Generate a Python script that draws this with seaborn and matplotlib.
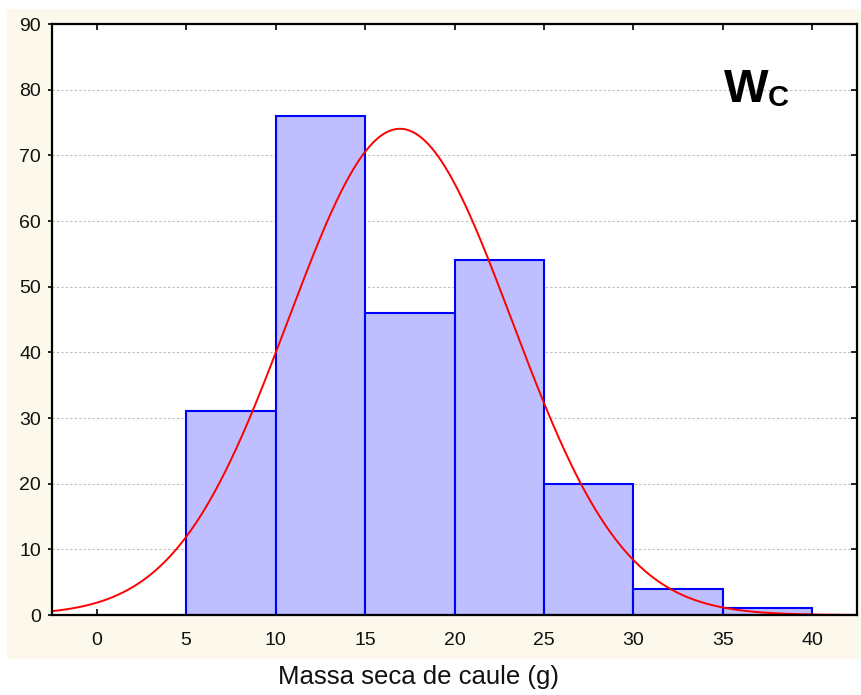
import numpy as np
import pandas as pd
import seaborn as sns
import matplotlib
matplotlib.use("Agg")
import matplotlib.pyplot as plt
from matplotlib.patches import Rectangle
from matplotlib.lines import TICKLEFT

# ---- data ----
bin_edges = [0, 5, 10, 15, 20, 25, 30, 35, 40]
counts = [0, 31, 76, 46, 54, 20, 4, 1]
fit_mean = 16.95
fit_sd = 6.25
x_ticks = [0, 5, 10, 15, 20, 25, 30, 35, 40]
y_ticks = [0, 10, 20, 30, 40, 50, 60, 70, 80, 90]
x_label = "Massa seca de caule (g)"

sns.set_theme(style="white")
plt.rcParams['font.family'] = ['Liberation Sans', 'DejaVu Sans']

W, H = 861, 695
fig = plt.figure(figsize=(W / 100, H / 100), dpi=100, facecolor='white')
# beige panel
fig.patches.append(Rectangle((7 / W, 1 - 659 / H), (861 - 7) / W, (659 - 9) / H,
                             transform=fig.transFigure, facecolor='#FDF8EC',
                             edgecolor='none', zorder=-10))
ax = fig.add_axes([52 / W, 1 - 615 / H, (857 - 52) / W, (615 - 24) / H])
ax.set_zorder(1)
ax.set_facecolor('white')

mids = [(bin_edges[i] + bin_edges[i + 1]) / 2 for i in range(len(counts))]
df = pd.DataFrame({'mid': mids, 'count': counts})
sns.histplot(data=df, x='mid', weights='count', bins=bin_edges, color='#BFBFFF',
             edgecolor='#0000FF', linewidth=1.5, alpha=1, ax=ax, zorder=2)

# fitted normal curve
N = sum(counts)
bw = bin_edges[1] - bin_edges[0]
xs = np.linspace(-2.5, 42.5, 500)
ys = N * bw * np.exp(-0.5 * ((xs - fit_mean) / fit_sd) ** 2) / (fit_sd * np.sqrt(2 * np.pi))
sns.lineplot(x=xs, y=ys, color='#FF0000', linewidth=1.4, ax=ax, zorder=3)

ax.set_xlim(-2.5, 42.5)
ax.set_ylim(0, 90)
ax.set_xticks(x_ticks)
ax.set_yticks(y_ticks)
ax.set_xlabel('')
ax.set_ylabel('')
ax.set_axisbelow(True)
ax.yaxis.grid(True, linestyle=(0, (2, 2)), color='#BDBDBD', linewidth=0.8)
ax.xaxis.grid(False)
for s in ax.spines.values():
    s.set_color('black')
    s.set_linewidth(1.6)
    s.set_zorder(4)
ax.tick_params(axis='x', direction='in', length=4, width=1.2, colors='black',
               top=True, bottom=True, labelsize=14, pad=12, labelcolor='#111111')
ax.tick_params(axis='y', direction='out', length=3, width=1.2, colors='black',
               left=True, right=True, labelsize=14, pad=5, labelcolor='#111111')
for t in ax.yaxis.get_major_ticks():
    t.tick2line.set_marker(TICKLEFT)
    t.tick2line.set_markersize(4)

fig.text(724 / W, 1 - 102 / H, "W", fontsize=34, fontweight='bold',
         ha='left', va='baseline', color='black')
fig.text(768 / W, 1 - 106 / H, "C", fontsize=21, fontweight='bold',
         ha='left', va='baseline', color='black')

fig.text(419 / W, 1 - 677 / H, x_label, fontsize=18.5, ha='center', va='center',
         color='#111111')

fig.savefig("out.png", dpi=100, facecolor='white')
